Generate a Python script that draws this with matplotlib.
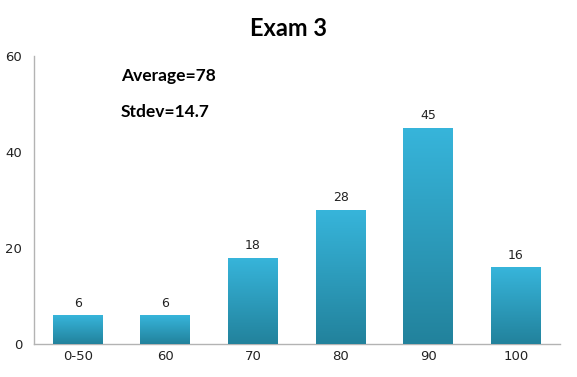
import numpy as np
import matplotlib
matplotlib.use("Agg")
import matplotlib.pyplot as plt
from matplotlib.colors import LinearSegmentedColormap

# Data
categories = ["0-50", "60", "70", "80", "90", "100"]
counts = [6, 6, 18, 28, 45, 16]
y_ticks = [0, 20, 40, 60]
title = "Exam 3"
notes = ["Average=78", "Stdev=14.7"]

fig = plt.figure(figsize=(5.77, 3.77), dpi=100)
ax = fig.add_axes([0.059, 0.0875, 0.911, 0.764])

x = np.arange(len(categories))
bars = ax.bar(x, counts, width=0.57, color="#2ea3c6", zorder=2)

# vertical gradient on each bar, light top -> dark bottom
cmap = LinearSegmentedColormap.from_list("bar", ["#22829c", "#37b5db"])
grad = np.linspace(0, 1, 256).reshape(-1, 1)
for b in bars:
    x0, y0 = b.get_x(), b.get_y()
    w, h = b.get_width(), b.get_height()
    im = ax.imshow(grad, cmap=cmap, origin="lower", aspect="auto",
                   extent=[x0, x0 + w, y0, y0 + h], zorder=3)
    im.set_clip_path(b)
    b.set_edgecolor("none")

for xi, v in zip(x, counts):
    ax.text(xi, v + 2.5, str(v), ha="center", va="center", fontsize=9,
            family="DejaVu Sans", color="#222222")

ax.set_xlim(-0.5, len(categories) - 0.5)
ax.set_ylim(0, 60)
ax.set_xticks(x)
ax.set_xticklabels(categories, fontsize=9.5, family="DejaVu Sans", color="#222222")
ax.set_yticks(y_ticks)
ax.set_yticklabels([str(t) for t in y_ticks], fontsize=9.5, family="DejaVu Sans",
                   color="#222222")
ax.tick_params(axis="x", length=0, pad=4)
ax.tick_params(axis="y", length=0, pad=8.5)

for s in ["top", "right"]:
    ax.spines[s].set_visible(False)
for s in ["left", "bottom"]:
    ax.spines[s].set_color("#b3b3b3")
    ax.spines[s].set_linewidth(1)

fig.text(0.5, 0.925, title, ha="center", va="center", fontsize=17,
         fontweight="bold", family="Lato")
ax.text(0.165, 0.93, notes[0], transform=ax.transAxes, ha="left", va="center",
        fontsize=12.5, fontweight="bold", family="Lato")
ax.text(0.165, 0.806, notes[1], transform=ax.transAxes, ha="left", va="center",
        fontsize=12.5, fontweight="bold", family="Lato")

fig.savefig("out.png", dpi=100)
